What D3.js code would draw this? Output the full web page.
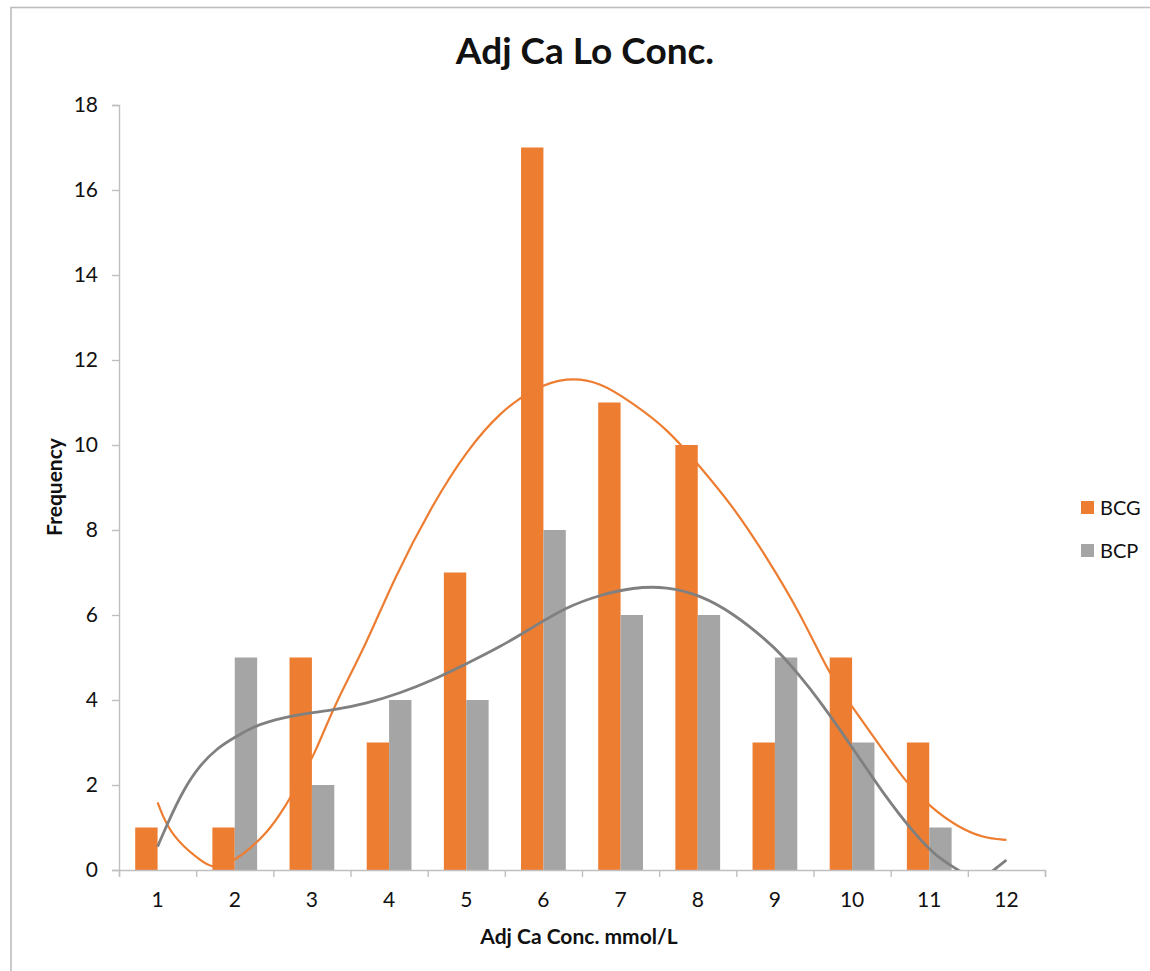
<!DOCTYPE html>
<html>
<head>
<meta charset="utf-8">
<script src="https://cdn.jsdelivr.net/npm/d3@7"></script>
<style>
  html, body { margin: 0; padding: 0; background: #fff; }
  svg { display: block; }
  text { font-family: Lato, "Open Sans", sans-serif; fill: #111; }
</style>
</head>
<body>
<svg id="chart" width="1150" height="971"></svg>
<script>
// Categories (Adj Ca concentration bins) and frequencies per method
const categories = ["1", "2", "3", "4", "5", "6", "7", "8", "9", "10", "11", "12"];
const seriesNames = ["BCG", "BCP"];
const bcgValues = [1, 1, 5, 3, 7, 17, 11, 10, 3, 5, 3, 0];
const bcpValues = [0, 5, 2, 4, 4, 8, 6, 6, 5, 3, 1, 0];
const yTicks = [0, 2, 4, 6, 8, 10, 12, 14, 16, 18];

// Polynomial trend lines, sampled as [category position, frequency]
const bcgTrend = [
  [1.00, 1.59], [1.12, 1.02], [1.33, 0.55], [1.55, 0.24], [1.71, 0.02], [1.98, 0.20],
  [2.20, 0.51], [2.41, 0.86], [2.63, 1.41], [2.85, 2.12], [3.06, 2.82], [3.28, 3.84],
  [3.71, 5.33], [4.05, 6.81], [4.57, 8.63], [5.01, 9.88], [5.44, 10.78], [5.87, 11.33],
  [6.30, 11.60], [6.73, 11.49], [7.16, 10.98], [7.60, 10.39], [8.03, 9.49], [8.46, 8.55],
  [8.89, 7.37], [9.33, 6.04], [9.71, 4.59], [9.97, 3.92], [10.40, 2.82], [10.71, 2.04],
  [11.01, 1.49], [11.36, 1.02], [11.70, 0.75], [12.00, 0.71]
];
const bcpTrend = [
  [1.00, 0.55], [1.12, 1.06], [1.33, 1.88], [1.55, 2.47], [1.77, 2.86], [1.98, 3.10],
  [2.20, 3.33], [2.41, 3.49], [2.85, 3.67], [3.28, 3.76], [3.71, 3.92], [4.14, 4.16],
  [4.57, 4.47], [5.01, 4.86], [5.44, 5.25], [5.87, 5.72], [6.30, 6.19], [6.73, 6.47],
  [7.16, 6.65], [7.60, 6.67], [8.03, 6.47], [8.46, 6.04], [8.89, 5.41], [9.11, 5.02],
  [9.33, 4.55], [9.54, 4.08], [9.97, 2.98], [10.40, 1.80], [10.84, 0.78], [11.10, 0.31],
  [11.36, 0.02], [11.55, -0.22], [11.75, -0.12], [11.84, 0.00], [12.00, 0.235]
];

const colors = { BCG: "#ED7D31", BCP: "#A5A5A5" };
const trendColors = { BCG: "#ED7D31", BCP: "#808080" };

const rows = categories.map((c, i) => ({ cat: c, BCG: bcgValues[i], BCP: bcpValues[i] }));

const svg = d3.select("#chart");
const plot = { left: 119, right: 1045, top: 105, bottom: 870 };

// Outer chart frame
svg.append("rect")
  .attr("x", 11).attr("y", 7.5)
  .attr("width", 1200).attr("height", 1100)
  .attr("fill", "none").attr("stroke", "#bdbdbd").attr("stroke-width", 1.6);

const x0 = d3.scaleBand().domain(categories)
  .range([plot.left, plot.right]).paddingInner(0.42).paddingOuter(0.21);
const x1 = d3.scaleBand().domain(seriesNames).range([0, x0.bandwidth()]);
const xc = d3.scaleLinear().domain([0.5, categories.length + 0.5]).range([plot.left, plot.right]);
const y = d3.scaleLinear().domain([0, 18]).range([plot.bottom, plot.top]);

// Bars
const groups = svg.append("g").selectAll("g").data(rows).join("g")
  .attr("transform", d => `translate(${x0(d.cat)},0)`);
groups.selectAll("rect")
  .data(d => seriesNames.map(s => ({ s, v: d[s] })))
  .join("rect")
  .attr("x", d => x1(d.s))
  .attr("width", x1.bandwidth())
  .attr("y", d => y(d.v))
  .attr("height", d => y(0) - y(d.v))
  .attr("fill", d => colors[d.s]);

// Y axis
const yAxis = svg.append("g")
  .attr("transform", `translate(${plot.left},0)`)
  .call(d3.axisLeft(y).tickValues(yTicks).tickSize(7).tickPadding(14));
yAxis.selectAll("text").style("font-size", "21px").attr("fill", "#111");

// X axis: tick marks sit between categories, labels at category centres
const xTickVals = d3.range(0, categories.length + 1).map(i => i + 0.5);
const xAxis = svg.append("g")
  .attr("transform", `translate(0,${plot.bottom})`)
  .call(d3.axisBottom(xc).tickValues(xTickVals).tickSize(7).tickFormat(""));
const xLabels = svg.append("g")
  .attr("transform", `translate(0,${plot.bottom})`)
  .call(d3.axisBottom(x0).tickSize(0).tickPadding(22));
xLabels.select(".domain").remove();
xLabels.selectAll("text").style("font-size", "21px").attr("fill", "#111");

[yAxis, xAxis].forEach(a => {
  a.select(".domain").attr("stroke", "#bfbfbf").attr("stroke-width", 1.4);
  a.selectAll(".tick line").attr("stroke", "#bfbfbf").attr("stroke-width", 1.4);
});

// Trend lines, clipped to the plot area
svg.append("clipPath").attr("id", "plotClip")
  .append("rect")
  .attr("x", plot.left).attr("y", plot.top)
  .attr("width", plot.right - plot.left).attr("height", plot.bottom - plot.top);

const line = d3.line()
  .x(d => xc(d[0]))
  .y(d => y(d[1]))
  .curve(d3.curveBasis);

const trends = svg.append("g").attr("clip-path", "url(#plotClip)");
trends.append("path").datum(bcgTrend)
  .attr("d", line).attr("fill", "none")
  .attr("stroke", trendColors.BCG).attr("stroke-width", 2.2);
trends.append("path").datum(bcpTrend)
  .attr("d", line).attr("fill", "none")
  .attr("stroke", trendColors.BCP).attr("stroke-width", 2.8);

// Title and axis titles
svg.append("text")
  .attr("x", 585).attr("y", 64)
  .attr("text-anchor", "middle")
  .style("font-size", "37px").style("font-weight", "bold")
  .text("Adj Ca Lo Conc.");

svg.append("text")
  .attr("x", 579).attr("y", 944)
  .attr("text-anchor", "middle")
  .style("font-size", "21px").style("font-weight", "bold")
  .text("Adj Ca Conc. mmol/L");

svg.append("text")
  .attr("transform", "translate(62,487) rotate(-90)")
  .attr("text-anchor", "middle")
  .style("font-size", "21px").style("font-weight", "bold")
  .text("Frequency");

// Legend
const legend = svg.append("g").attr("transform", "translate(1081,501)");
const items = legend.selectAll("g").data(seriesNames).join("g")
  .attr("transform", (d, i) => `translate(0,${i * 43})`);
items.append("rect").attr("width", 13).attr("height", 13).attr("fill", d => colors[d]);
items.append("text").attr("x", 19).attr("y", 14)
  .style("font-size", "20px").text(d => d);
</script>
</body>
</html>
